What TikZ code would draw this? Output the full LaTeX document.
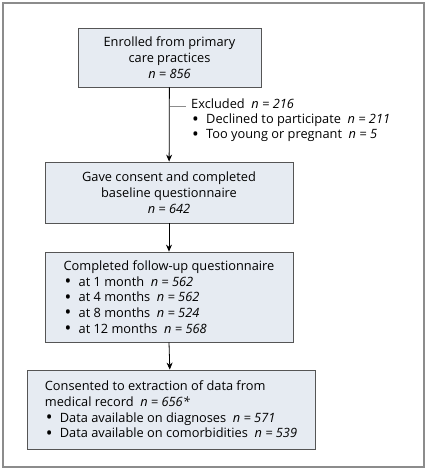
\documentclass[tikz,border=0pt]{standalone}
\usepackage{fontspec}
\setmainfont{Open Sans}
\usetikzlibrary{arrows.meta}

\definecolor{boxfill}{RGB}{230,235,242}
\definecolor{boxline}{RGB}{85,85,85}
\definecolor{framegray}{RGB}{140,140,140}

\newcommand{\nval}[1]{\textit{n = #1}}
\newcommand{\itm}{\hspace*{1pt}\makebox[14pt][l]{\smash{\raisebox{-1.3pt}{\scalebox{1.4}{\textbullet}}}}}

\begin{document}
\begin{tikzpicture}[x=1pt,y=-1pt,
  box/.style={draw=boxline,fill=boxfill,line width=0.8pt,rectangle,
    inner sep=0pt,font=\fontsize{12.8}{15.7}\selectfont},
  flow/.style={-{Stealth[length=7pt,width=6pt]},line width=0.8pt}]

\useasboundingbox (0,0) rectangle (427,471);
\draw[framegray,line width=2] (3,3) rectangle (424,467);

\node[box,minimum width=183pt,minimum height=59pt,align=center]
  (enrolled) at (169.5,57.5) {Enrolled from primary\\care practices\\\nval{856}};

\node[box,minimum width=248pt,minimum height=61pt,align=center]
  (consent) at (169,192.5) {Gave consent and completed\\baseline questionnaire\\\nval{642}};

\node[box,minimum width=248pt,minimum height=90pt,align=left]
  (followup) at (169,297) {Completed follow-up questionnaire\\
  \itm at 1 month\ \ \nval{562}\\
  \itm at 4 months\ \ \nval{562}\\
  \itm at 8 months\ \ \nval{524}\\
  \itm at 12 months\ \ \nval{568}};

\node[box,minimum width=288pt,minimum height=79pt,align=left]
  (records) at (171,409.5) {Consented to extraction of data from\\
  medical record\ \ \nval{656*}\\
  \itm Data available on diagnoses\ \ \nval{571}\\
  \itm Data available on comorbidities\ \ \nval{539}};

% excluded branch
\coordinate (split) at (enrolled.south |- 0,106);
\node[anchor=north west,align=left,inner sep=0pt,
  font=\fontsize{12.8}{15}\selectfont]
  (excluded) at (191,99) {Excluded\ \ \nval{216}\\
  \itm Declined to participate\ \ \nval{211}\\
  \itm Too young or pregnant\ \ \nval{5}};
\draw[framegray,line width=0.8pt] (split) -- (186,106);

\draw[flow] (enrolled) -- (consent);
\draw[flow] (consent) -- (followup);
\draw[flow] (followup.south -| records.north) ++(-2,0) -- (records);

\end{tikzpicture}
\end{document}
